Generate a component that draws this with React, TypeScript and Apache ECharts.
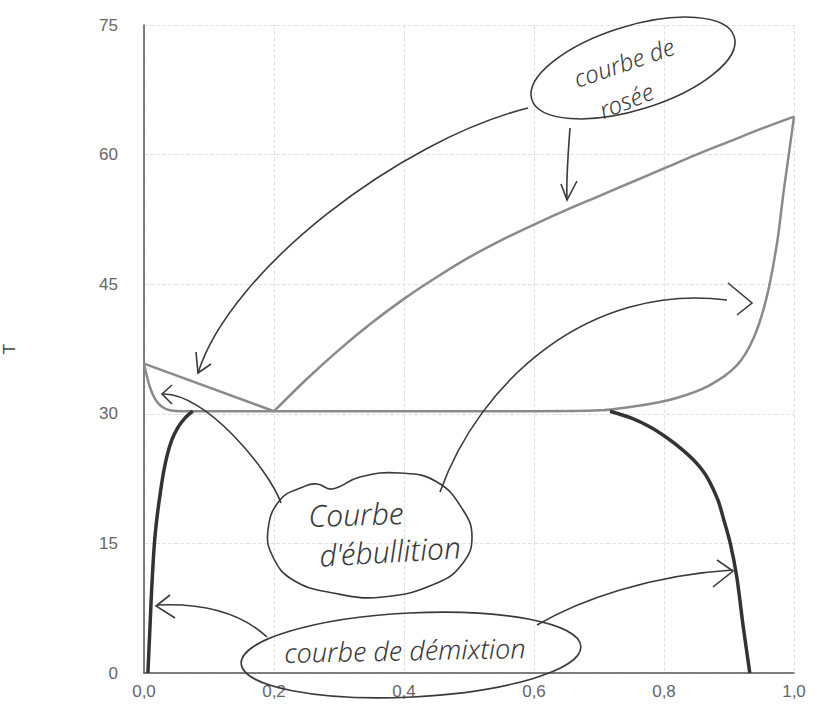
import React, { useEffect, useRef } from "react";
import * as echarts from "echarts";

// Axis ticks
const xTicks = [0, 0.2, 0.4, 0.6, 0.8, 1.0];
const yTicks = [0, 15, 30, 45, 60, 75];

// Courbe de rosée (dew curve): straight left branch, curved right branch
const dewLeftX = [0, 0.2];
const dewLeftT = [35.8, 30.3];
const dewRightX = [0.2, 0.25, 0.3, 0.35, 0.4, 0.45, 0.5, 0.55, 0.6, 0.65, 0.7, 0.75, 0.8, 0.85, 0.9, 0.95, 1.0];
const dewRightT = [30.3, 34.0, 37.4, 40.5, 43.3, 45.8, 48.1, 50.1, 51.9, 53.6, 55.2, 56.8, 58.4, 60.0, 61.5, 63.0, 64.4];

// Courbe d'ébullition (boiling curve)
const boilX = [0, 0.004, 0.009, 0.015, 0.022, 0.03, 0.04, 0.06, 0.2, 0.4, 0.6, 0.7, 0.766, 0.818, 0.87, 0.912, 0.938, 0.958, 0.974, 0.984, 0.992, 1.0];
const boilT = [35.8, 34.5, 33.1, 32.0, 31.2, 30.7, 30.4, 30.3, 30.3, 30.3, 30.3, 30.4, 31.0, 31.8, 33.3, 35.6, 38.8, 43.5, 49.8, 55.7, 60.0, 64.4];

// Courbe de démixtion (left and right branches)
const demixLeftX = [0.006, 0.009, 0.012, 0.016, 0.02, 0.025, 0.03, 0.036, 0.043, 0.052, 0.063, 0.075];
const demixLeftT = [0, 5, 10, 15, 18, 20.8, 23.2, 25.3, 27, 28.4, 29.5, 30.3];
const demixRightX = [0.717, 0.75, 0.778, 0.805, 0.829, 0.85, 0.866, 0.883, 0.891, 0.902, 0.912, 0.922, 0.932];
const demixRightT = [30.3, 29.5, 28.5, 27.2, 25.8, 24.3, 22.7, 20, 18, 15, 11.1, 5.3, 0];

const pairs = (xs: number[], ys: number[]) => xs.map((x, i) => [x, ys[i]]);

const INK = "#3a3a3a";
const HAND = "italic 300 24px 'Noto Sans', sans-serif";
const LABEL_FONT = "'Liberation Sans', Arial, sans-serif";

export default function App() {
  const ref = useRef<HTMLDivElement>(null);
  useEffect(() => {
    document.body.style.margin = "0";
    const chart = echarts.init(ref.current!, undefined, { renderer: "svg" });
    const stroke = (w = 1.6) => ({ stroke: INK, lineWidth: w, fill: null as any });
    const txt = (text: string, x: number, y: number, rot = 0, font = HAND) => ({
      type: "text",
      x,
      y,
      rotation: rot,
      style: {
        text,
        font,
        fill: INK,
        align: "center",
        verticalAlign: "middle",
        textAlign: "center",
        textVerticalAlign: "middle",
      },
      z: 100,
    });
    const graphic: any[] = [
      // rosée
      { type: "ellipse", x: 633, y: 68, rotation: 0.3, shape: { cx: 0, cy: 0, rx: 106, ry: 42 }, style: stroke(), z: 100 },
      txt("courbe de", 624, 62, 0.33),
      txt("rosée", 626, 100, 0.38),
      { type: "bezierCurve", shape: { x1: 570, y1: 128, cpx1: 568, cpy1: 155, cpx2: 566, cpy2: 180, x2: 567, y2: 200 }, style: stroke(), z: 100 },
      { type: "polyline", shape: { points: [[561, 184], [567, 200], [577, 181]] }, style: stroke(), z: 100 },
      { type: "bezierCurve", shape: { x1: 528, y1: 108, cpx1: 400, cpy1: 140, cpx2: 230, cpy2: 270, x2: 198, y2: 373 }, style: stroke(), z: 100 },
      { type: "polyline", shape: { points: [[196, 352], [198, 373], [211, 364]] }, style: stroke(), z: 100 },
      // ébullition
      {
        type: "polygon",
        shape: {
          smooth: 0.45,
          points: [[280, 500], [303, 487], [317, 484], [332, 489], [360, 477], [400, 473], [437, 482], [463, 510], [472, 537], [463, 563], [437, 583], [383, 597], [333, 593], [293, 580], [273, 557], [268, 530]],
        },
        style: stroke(),
        z: 100,
      },
      txt("Courbe", 356, 514, 0.03, "italic 300 30px 'Noto Sans', sans-serif"),
      txt("d'ébullition", 390, 551, 0.06, "italic 300 30px 'Noto Sans', sans-serif"),
      { type: "bezierCurve", shape: { x1: 281, y1: 503, cpx1: 268, cpy1: 468, cpx2: 205, cpy2: 393, x2: 163, y2: 394 }, style: stroke(), z: 100 },
      { type: "polyline", shape: { points: [[172, 385], [162, 394], [172, 404]] }, style: stroke(), z: 100 },
      { type: "bezierCurve", shape: { x1: 440, y1: 492, cpx1: 480, cpy1: 380, cpx2: 590, cpy2: 283, x2: 727, y2: 300 }, style: stroke(), z: 100 },
      { type: "polyline", shape: { points: [[728, 283], [752, 303], [737, 315]] }, style: stroke(), z: 100 },
      // démixtion
      { type: "ellipse", x: 411, y: 655, rotation: 0.05, shape: { cx: 0, cy: 0, rx: 170, ry: 42 }, style: stroke(), z: 100 },
      txt("courbe de démixtion", 405, 650, 0.02, "italic 300 27px 'Noto Sans', sans-serif"),
      { type: "bezierCurve", shape: { x1: 267, y1: 637, cpx1: 240, cpy1: 612, cpx2: 200, cpy2: 603, x2: 157, y2: 605 }, style: stroke(), z: 100 },
      { type: "polyline", shape: { points: [[170, 595], [156, 606], [175, 618]] }, style: stroke(), z: 100 },
      { type: "bezierCurve", shape: { x1: 537, y1: 625, cpx1: 580, cpy1: 600, cpx2: 650, cpy2: 575, x2: 733, y2: 570 }, style: stroke(), z: 100 },
      { type: "polyline", shape: { points: [[717, 560], [733, 571], [713, 587]] }, style: stroke(), z: 100 },
    ];
    const gray = { color: "#8a8a8a", width: 2.5 };
    const black = { color: "#333", width: 3.5 };
    chart.setOption({
      animation: false,
      backgroundColor: "#ffffff",
      grid: { left: 144, right: 24, top: 25, bottom: 40, containLabel: false, outerBoundsMode: "none" },
      xAxis: {
        type: "value",
        min: xTicks[0],
        max: xTicks[xTicks.length - 1],
        interval: 0.2,
        axisLine: { show: true, lineStyle: { color: "#555", width: 1.5 } },
        axisTick: { show: false },
        axisLabel: {
          color: "#666",
          fontSize: 17,
          fontFamily: LABEL_FONT,
          margin: 10,
          formatter: (v: number) => v.toFixed(1).replace(".", ","),
        },
        splitLine: { show: true, lineStyle: { color: "#e2e2e2", type: "dashed" } },
      },
      yAxis: {
        type: "value",
        min: yTicks[0],
        max: yTicks[yTicks.length - 1],
        interval: 15,
        name: "T",
        nameLocation: "middle",
        nameGap: 126,
        nameTextStyle: { color: "#444", fontSize: 17, fontFamily: LABEL_FONT },
        axisLine: { show: true, lineStyle: { color: "#555", width: 1.5 } },
        axisTick: { show: false },
        axisLabel: {
          color: "#666",
          fontSize: 17,
          fontFamily: LABEL_FONT,
          margin: 26,
        },
        splitLine: { show: true, lineStyle: { color: "#e2e2e2", type: "dashed" } },
      },
      series: [
        { type: "line", name: "rosée (branche gauche)", data: pairs(dewLeftX, dewLeftT), showSymbol: false, lineStyle: gray },
        { type: "line", name: "rosée", data: pairs(dewRightX, dewRightT), showSymbol: false, smooth: 0.3, lineStyle: gray },
        { type: "line", name: "ébullition", data: pairs(boilX, boilT), showSymbol: false, smooth: 0.3, lineStyle: gray },
        { type: "line", name: "démixtion gauche", data: pairs(demixLeftX, demixLeftT), showSymbol: false, smooth: 0.3, lineStyle: black },
        { type: "line", name: "démixtion droite", data: pairs(demixRightX, demixRightT), showSymbol: false, smooth: 0.3, lineStyle: black },
      ],
      graphic,
    });
    return () => chart.dispose();
  }, []);
  return <div ref={ref} style={{ width: 818, height: 713 }} />;
}
